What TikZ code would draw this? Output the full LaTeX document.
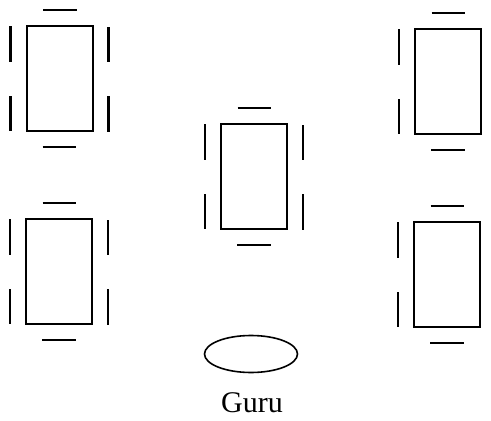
\documentclass[tikz,border=0pt]{standalone}
\usepackage{fontspec}
\setmainfont{Liberation Serif}
\usetikzlibrary{shapes.geometric}
\tikzset{
  tablebox/.style={draw=black, line width=2pt},
  chairbar/.style={draw=black, line width=2.4pt},
  pics/studytable/.style={code={
    \path[tablebox] (0,0) rectangle (66,105);
    \path[chairbar] (16.5,-16) -- (50,-16);
    \path[chairbar] (16,121) -- (49.5,121);
    \path[chairbar] (-16,0) -- (-16,36);
    \path[chairbar] (-16,70) -- (-16,105);
    \path[chairbar] (82,1) -- (82,36);
    \path[chairbar] (82,70) -- (82,106);
  }}
}
\begin{document}
\begin{tikzpicture}[x=1pt,y=-1pt]
\useasboundingbox (0,0) rectangle (491,421);
\clip (0,0) rectangle (491,421);
\pic at (26.5,26) {studytable};
\pic at (221,124) {studytable};
\pic at (415,29) {studytable};
\pic at (26,219) {studytable};
\pic at (414,222) {studytable};
\node[draw=black, line width=1.6pt, ellipse, minimum width=93pt, minimum height=37pt, inner sep=0pt] (guru) at (251,354) {};
\node[font=\fontsize{30}{33}\selectfont, inner sep=0pt, anchor=base] (gurulabel) at (252,412) {Guru};
\end{tikzpicture}
\end{document}
